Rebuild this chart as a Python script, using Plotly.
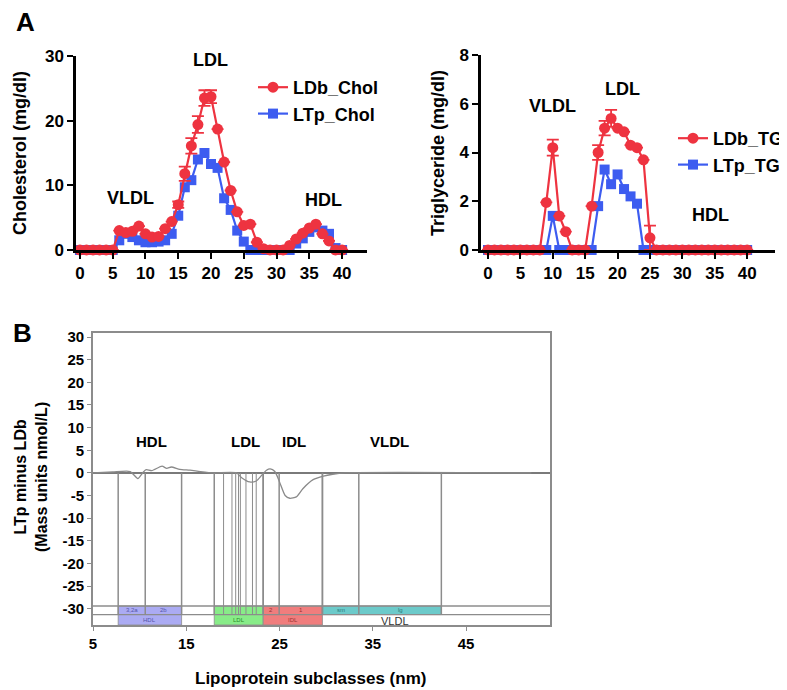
import plotly.graph_objects as go

# ---------------- data ----------------
fractions = list(range(0, 41))

ldb_chol = [0, 0, 0, 0, 0, 0, 3.0, 2.7, 2.9, 3.7, 2.5, 2.0, 2.1, 3.3, 4.4, 7.0, 11.8, 16.1, 19.4, 23.5,
            23.7, 18.7, 13.6, 9.2, 5.9, 3.8, 4.0, 1.2, 0.2, 0, 0, 0, 0.7, 1.7, 2.6, 3.4, 4.0, 2.5, 1.4, 0, 0]
ldb_chol_err = [0] * 15 + [0.5, 1.1, 1.2, 1.3, 1.2, 1.0] + [0] * 20
ltp_chol = [0, 0, 0, 0, 0, 0, 1.5, 2.5, 2.0, 1.5, 1.2, 1.2, 1.3, 1.5, 2.5, 5.3, 9.7, 10.8, 14.0, 15.0,
            13.3, 12.7, 8.0, 6.2, 3.0, 1.3, 0, 0, 0, 0, 0, 0, 0, 1.0, 1.8, 2.8, 3.5, 3.0, 2.5, 0.3, 0]

ldb_tg = [0] * 9 + [1.95, 4.2, 1.4, 0.75, 0, 0, 0, 1.8, 4.0, 5.0, 5.4, 5.0, 4.85, 4.3, 4.2, 3.7, 0.5] + [0] * 15
ldb_tg_err = [0] * 10 + [0.33] + [0] * 6 + [0.3, 0.3, 0.35] + [0] * 5 + [0.5] + [0] * 15
ltp_tg = [0] * 10 + [1.4] + [0] * 6 + [1.8, 3.3, 2.7, 3.1, 2.5, 2.2, 1.9] + [0] * 17

diam_nm = [5, 7.1, 9.0, 9.8, 10.4, 10.7, 11.3, 12.4, 12.9, 13.4, 14.3, 15.4, 16.5, 17.9, 20.4, 20.9, 21.8,
           22.5, 23.1, 23.6, 24.0, 24.5, 25.0, 25.6, 26.1, 26.8, 27.5, 28.6, 29.7, 30.7, 32.0, 52.0]
diff_ltp_ldb = [0, 0.2, 0.3, -1.25, 0.2, 0.7, 0.5, 1.5, 1.0, 1.3, 0.8, 0.6, 0.3, 0.0, 0.0, -1.0, -2.0,
                -1.8, -0.5, 0.6, 0.9, 0.3, -2.0, -5.0, -5.6, -5.3, -3.5, -1.5, -0.7, -0.3, 0, 0]

hdl_bounds = [7.7, 10.6, 14.5]
hdl_sub = ["3,2a", "2b"]
ldl_bounds = [18.0, 19.0, 19.9, 20.3, 20.6, 20.8, 21.4, 22.1, 22.5, 23.25]
idl_bounds = [23.25, 24.96, 29.6]
idl_sub = ["2", "1"]
vldl_bounds = [29.6, 33.5, 42.35]
vldl_sub = ["sm", "lg"]

b_xticks = [5, 15, 25, 35, 45]
b_yticks = list(range(-30, 31, 5))
b_yticklabels = [str(v) for v in b_yticks]  # plain hyphen minus as in the original

# ---------------- styling ----------------
FONT = "Liberation Sans, Arial, sans-serif"
RED = "#EE3340"
BLUE = "#3D5CF0"
GRAY = "#8C8C8C"
W, H = 787, 690
OFF = 8  # page body margin in the browser


def pxx(x):
    return (x - OFF) / W


def pxy(y):
    return 1 - (y - OFF) / H


fig = go.Figure()

# Panel A left
fig.add_trace(go.Scatter(x=fractions, y=ltp_chol, mode="lines+markers", name="LTp_Chol",
                         line=dict(color=BLUE, width=2.2), marker=dict(symbol="square", size=10, color=BLUE),
                         xaxis="x", yaxis="y", cliponaxis=False, legend="legend", legendrank=2))
fig.add_trace(go.Scatter(x=fractions, y=ldb_chol, mode="lines+markers", name="LDb_Chol",
                         line=dict(color=RED, width=2.2), marker=dict(symbol="circle", size=11, color=RED),
                         error_y=dict(type="data", array=ldb_chol_err, color=RED, thickness=1.8, width=6),
                         xaxis="x", yaxis="y", cliponaxis=False, legend="legend", legendrank=1))

# Panel A right
fig.add_trace(go.Scatter(x=fractions, y=ltp_tg, mode="lines+markers", name="LTp_TG",
                         line=dict(color=BLUE, width=2.2), marker=dict(symbol="square", size=10, color=BLUE),
                         xaxis="x2", yaxis="y2", cliponaxis=False, legend="legend2", legendrank=2))
fig.add_trace(go.Scatter(x=fractions, y=ldb_tg, mode="lines+markers", name="LDb_TG",
                         line=dict(color=RED, width=2.2), marker=dict(symbol="circle", size=11, color=RED),
                         error_y=dict(type="data", array=ldb_tg_err, color=RED, thickness=1.8, width=6),
                         xaxis="x2", yaxis="y2", cliponaxis=False, legend="legend2", legendrank=1))

# Panel B curve
fig.add_trace(go.Scatter(x=diam_nm, y=diff_ltp_ldb, mode="lines", showlegend=False,
                         line=dict(color="#8a8a8a", width=1.3, shape="spline", smoothing=0.6),
                         xaxis="x3", yaxis="y3"))

# ---------------- shapes for panel B ----------------
shapes = []
BAND_TOP, BAND_MID, BAND_BOT = -29.4, -31.3, -33.6


def rect(x0, x1, y0, y1, fill, lw=0.8):
    shapes.append(dict(type="rect", xref="x3", yref="y3", x0=x0, x1=x1, y0=y0, y1=y1,
                       fillcolor=fill, line=dict(color=GRAY, width=lw), layer="below"))


rect(hdl_bounds[0], hdl_bounds[-1], BAND_BOT, BAND_TOP, "#ABABF3")
rect(ldl_bounds[0], ldl_bounds[-1], BAND_BOT, BAND_TOP, "#88EC88")
rect(idl_bounds[0], idl_bounds[-1], BAND_BOT, BAND_TOP, "#F07D7D")
rect(vldl_bounds[0], vldl_bounds[-1], BAND_MID, BAND_TOP, "#6CCACA")

for yv in [BAND_TOP, BAND_MID]:
    shapes.append(dict(type="line", xref="x3 domain", yref="y3", x0=0, x1=1, y0=yv, y1=yv,
                       line=dict(color=GRAY, width=1.4)))

for group in [hdl_bounds, ldl_bounds, idl_bounds, vldl_bounds]:
    for i, b in enumerate(group):
        thin = group is ldl_bounds and 0 < i < len(group) - 1
        shapes.append(dict(type="line", xref="x3", yref="y3", x0=b, x1=b, y0=0, y1=BAND_MID,
                           line=dict(color=GRAY, width=1.0 if thin else 1.5)))

annotations = []
# sub-class tiny labels
for bounds, labels, col in [(hdl_bounds, hdl_sub, "#5555aa"), (idl_bounds, idl_sub, "#993333"),
                            (vldl_bounds, vldl_sub, "#2a7a7a")]:
    for i, lab in enumerate(labels):
        annotations.append(dict(x=(bounds[i] + bounds[i + 1]) / 2, y=(BAND_TOP + BAND_MID) / 2,
                                xref="x3", yref="y3", text=lab, showarrow=False,
                                font=dict(family=FONT, size=6, color=col)))
for bounds, lab, col, sz in [(hdl_bounds, "HDL", "#5555aa", 6), (ldl_bounds, "LDL", "#2a8a2a", 6),
                             (idl_bounds, "IDL", "#993333", 6)]:
    annotations.append(dict(x=(bounds[0] + bounds[-1]) / 2, y=(BAND_MID + BAND_BOT) / 2,
                            xref="x3", yref="y3", text=lab, showarrow=False,
                            font=dict(family=FONT, size=sz, color=col)))
annotations.append(dict(x=37.4, y=(BAND_MID + BAND_BOT) / 2 - 0.2, xref="x3", yref="y3", text="VLDL",
                        showarrow=False, font=dict(family=FONT, size=11, color="#333")))

# region labels
bold18 = dict(family=FONT, size=18, color="black", weight="bold")
for x, y, t in [(19.9, 29.4, "LDL"), (7.7, 8.0, "VLDL"), (37.2, 7.7, "HDL")]:
    annotations.append(dict(x=x, y=y, xref="x", yref="y", text=t, showarrow=False, font=bold18))
for x, y, t in [(10.0, 5.9, "VLDL"), (20.8, 6.6, "LDL"), (34.3, 1.45, "HDL")]:
    annotations.append(dict(x=x, y=y, xref="x2", yref="y2", text=t, showarrow=False, font=bold18))
bold15 = dict(family=FONT, size=15, color="black", weight="bold")
for x, y, t in [(11.3, 6.9, "HDL"), (21.3, 6.9, "LDL"), (26.6, 6.9, "IDL"), (36.8, 6.9, "VLDL")]:
    annotations.append(dict(x=x, y=y, xref="x3", yref="y3", text=t, showarrow=False, font=bold15))

# panel letters and axis titles (pixel positions converted to paper)
for (x, y), t in [((25, 22), "A"), ((22, 333), "B")]:
    annotations.append(dict(x=pxx(x), y=pxy(y), xref="paper", yref="paper", text=t, showarrow=False,
                            xanchor="center", yanchor="middle",
                            font=dict(family=FONT, size=26, color="black", weight="bold")))

for (x, y), t in [((20, 153), "Cholesterol (mg/dl)"), ((438, 153), "Triglyceride (mg/dl)"),
                  ((31, 477), "LTp minus LDb<br>(Mass units nmol/L)")]:
    annotations.append(dict(x=pxx(x), y=pxy(y), xref="paper", yref="paper", text=t, showarrow=False,
                            xanchor="center", yanchor="middle", textangle=-90,
                            font=dict(family=FONT, size=18 if "mg" in t else 16,
                                      color="black", weight="bold")))
annotations.append(dict(x=pxx(310), y=pxy(678), xref="paper", yref="paper",
                        text="Lipoprotein subclasses (nm)", showarrow=False,
                        xanchor="center", yanchor="middle",
                        font=dict(family=FONT, size=17, color="black", weight="bold")))

tickA = dict(family=FONT, size=17, color="black", weight="bold")
axA = dict(showline=True, linecolor="black", linewidth=2.5, ticks="outside", ticklen=6, tickwidth=2.2,
           tickcolor="black", showgrid=False, zeroline=False, tickfont=tickA)

fig.update_layout(
    width=W, height=H, margin=dict(l=0, r=0, t=0, b=0, autoexpand=False),
    plot_bgcolor="white", paper_bgcolor="white",
    xaxis=dict(domain=[pxx(76), pxx(367)], range=[-0.6, 43.8], tickvals=list(range(0, 41, 5)),
               anchor="y", **axA),
    yaxis=dict(domain=[pxy(250), pxy(56)], range=[0, 30], tickvals=[0, 10, 20, 30],
               anchor="x", **axA),
    xaxis2=dict(domain=[pxx(481), pxx(775)], range=[-1.08, 44.3], tickvals=list(range(0, 41, 5)),
                anchor="y2", **axA),
    yaxis2=dict(domain=[pxy(250), pxy(55)], range=[0, 8], tickvals=[0, 2, 4, 6, 8],
                anchor="x2", **axA),
    xaxis3=dict(domain=[pxx(93), pxx(550)], range=[5, 54], tickvals=b_xticks, anchor="y3",
                showline=True, mirror=True, linecolor=GRAY, linewidth=1.6, ticks="outside", ticklen=4,
                tickcolor=GRAY, showgrid=False, zeroline=False,
                tickfont=dict(family=FONT, size=15, color="black", weight="bold")),
    yaxis3=dict(domain=[pxy(625), pxy(333)], range=[-33.6, 30.9], tickvals=b_yticks,
                ticktext=b_yticklabels, anchor="x3",
                showline=True, mirror=True, linecolor=GRAY, linewidth=1.6, ticks="outside", ticklen=4,
                tickcolor=GRAY, showgrid=False, zeroline=True, zerolinecolor="#7a7a7a", zerolinewidth=1.5,
                tickfont=dict(family=FONT, size=15, color="black", weight="bold")),
    legend=dict(x=pxx(253), y=pxy(69), xanchor="left", yanchor="top", bgcolor="rgba(0,0,0,0)",
                font=dict(family=FONT, size=18, color="black", weight="bold"), tracegroupgap=0),
    legend2=dict(x=pxx(673), y=pxy(120), xanchor="left", yanchor="top", bgcolor="rgba(0,0,0,0)",
                 font=dict(family=FONT, size=18, color="black", weight="bold"), tracegroupgap=0),
    shapes=shapes, annotations=annotations,
)

fig.write_html("out.html")
